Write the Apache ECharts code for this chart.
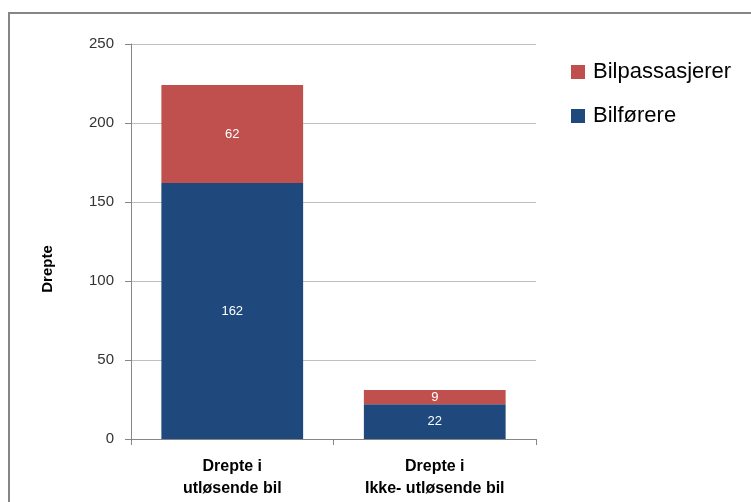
<!DOCTYPE html>
<html>
<head>
<meta charset="utf-8">
<script src="https://cdn.jsdelivr.net/npm/echarts@6/dist/echarts.min.js"></script>
<style>
  html, body { margin: 0; padding: 0; background: #fff; }
  #chart { width: 751px; height: 502px; }
</style>
</head>
<body>
<div id="chart"></div>
<script>
// Categories and stacked values (drivers at the bottom, passengers on top)
const categories = ['Drepte i\nutløsende bil', 'Drepte i\nIkke- utløsende bil'];
const drivers = [162, 22];
const passengers = [62, 9];
const yTicks = { min: 0, max: 250, interval: 50 };
const yTitle = 'Drepte';

const font = 'Liberation Sans, Arial, sans-serif';
const chart = echarts.init(document.getElementById('chart'));

const valueLabel = {
  show: true,
  position: 'inside',
  color: '#ffffff',
  fontSize: 13,
  fontFamily: font
};

chart.setOption({
  animation: false,
  textStyle: { fontFamily: font },
  graphic: [
    {
      // outer chart frame
      type: 'rect',
      shape: { x: 9, y: 13, width: 780, height: 520 },
      style: { fill: 'none', stroke: '#868686', lineWidth: 2 },
      silent: true
    },
    {
      // vertical axis title
      type: 'text',
      x: 48,
      y: 269,
      rotation: Math.PI / 2,
      style: {
        text: yTitle,
        fill: '#000',
        font: 'bold 15px ' + font,
        align: 'center',
        verticalAlign: 'middle'
      },
      silent: true
    }
  ],
  grid: { left: 131, top: 44, right: 215, bottom: 63 },
  legend: {
    orient: 'vertical',
    left: 566,
    top: 56,
    itemWidth: 14,
    itemHeight: 14,
    itemGap: 22,
    icon: 'rect',
    data: ['Bilpassasjerer', 'Bilførere'],
    textStyle: { fontSize: 22, color: '#000', fontFamily: font, padding: [0, 0, 0, 3] }
  },
  xAxis: {
    type: 'category',
    data: categories,
    axisLine: { lineStyle: { color: '#868686', width: 1 } },
    axisTick: { show: true, length: 6, alignWithLabel: false, lineStyle: { color: '#868686' } },
    axisLabel: {
      color: '#000',
      fontWeight: 'bold',
      fontSize: 16,
      lineHeight: 22,
      margin: 17,
      interval: 0
    }
  },
  yAxis: {
    type: 'value',
    min: yTicks.min,
    max: yTicks.max,
    interval: yTicks.interval,
    axisLine: { show: true, lineStyle: { color: '#868686', width: 1 } },
    axisTick: { show: true, length: 6, lineStyle: { color: '#868686' } },
    axisLabel: { color: '#333', fontSize: 15, margin: 17 },
    splitLine: { lineStyle: { color: '#bfbfbf', width: 1 } }
  },
  series: [
    {
      name: 'Bilførere',
      type: 'bar',
      stack: 'total',
      data: drivers,
      barCategoryGap: '30%',
      itemStyle: { color: '#1F497D' },
      label: valueLabel
    },
    {
      name: 'Bilpassasjerer',
      type: 'bar',
      stack: 'total',
      data: passengers,
      barCategoryGap: '30%',
      itemStyle: { color: '#C0504D' },
      label: valueLabel
    }
  ]
});
</script>
</body>
</html>
